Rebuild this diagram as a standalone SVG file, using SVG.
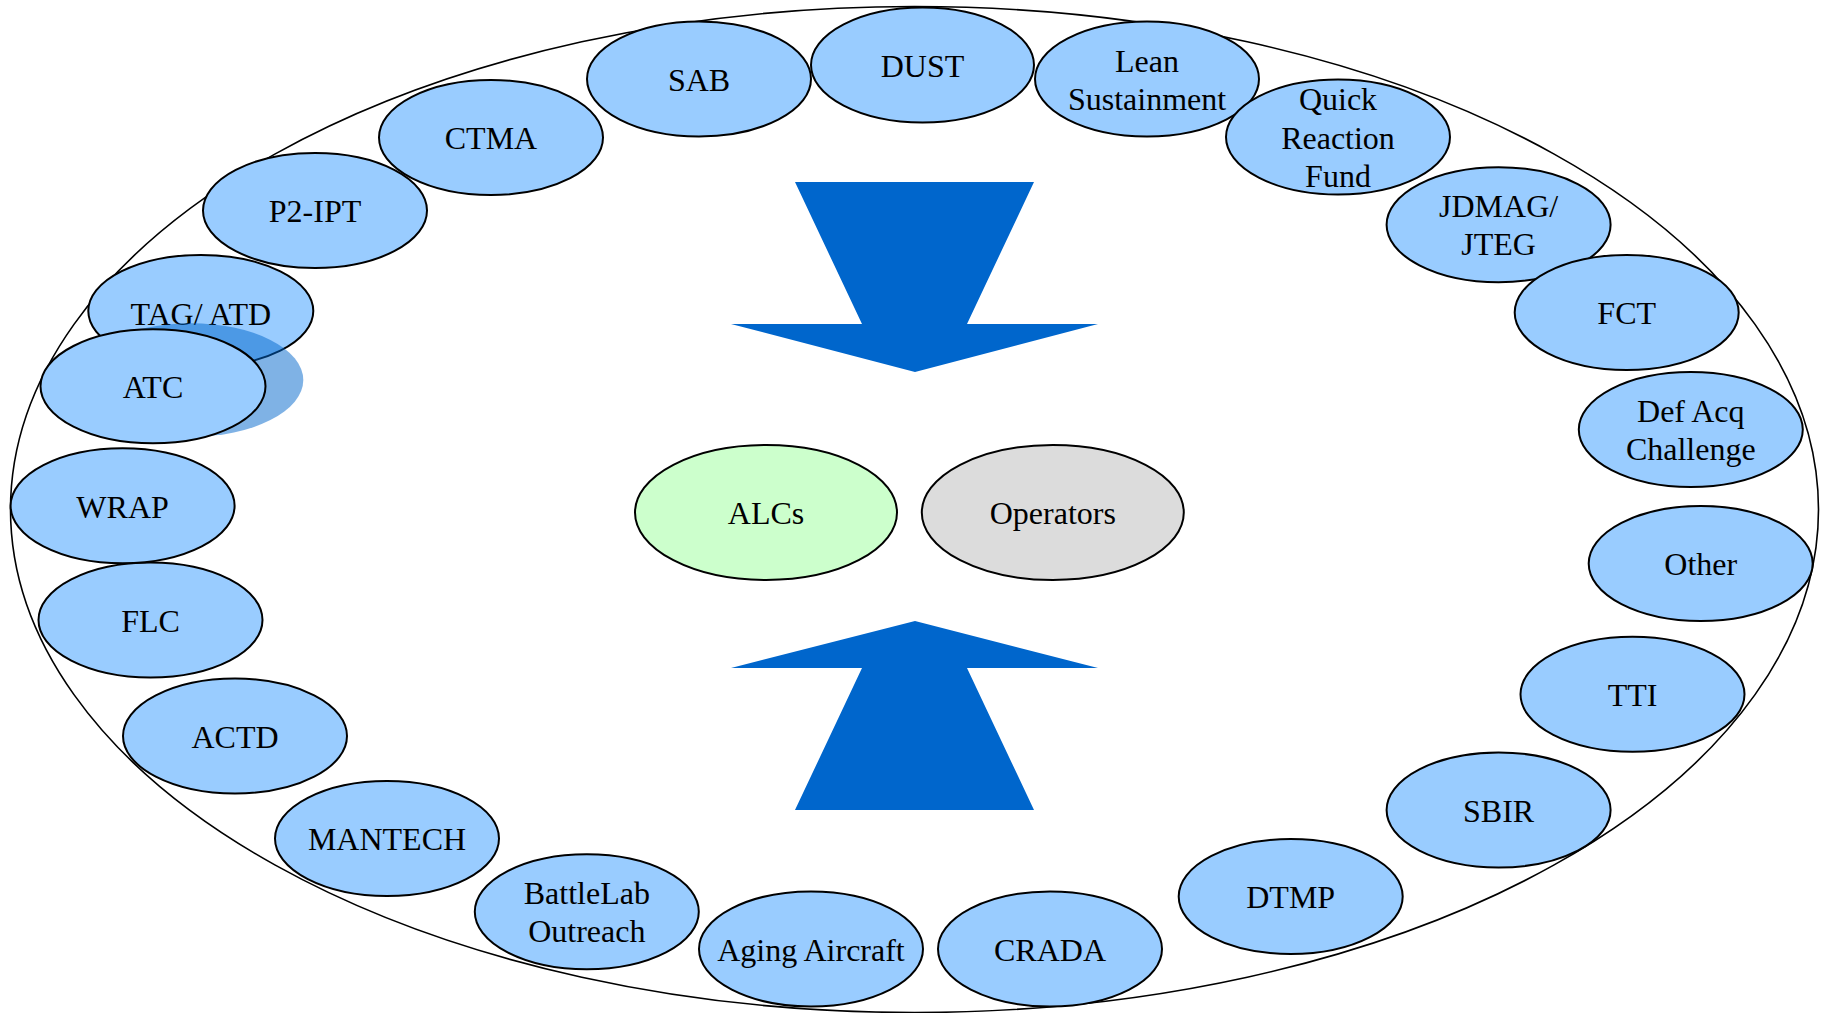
<svg xmlns="http://www.w3.org/2000/svg" width="1826" height="1013" viewBox="0 0 1826 1013">
<style>
.n{fill:#99ccff;stroke:#000;stroke-width:2}
.c1{fill:#ccffcc;stroke:#000;stroke-width:2}
.c2{fill:#dcdcdc;stroke:#000;stroke-width:2}
.t{font-family:"Liberation Serif","Times New Roman",serif;font-size:32px;fill:#000;text-anchor:middle}
.arr{fill:#0066cc}
</style>
<rect width="1826" height="1013" fill="#fff"/>
<ellipse id="ring" cx="914.5" cy="509.5" rx="904" ry="503" fill="none" stroke="#000" stroke-width="1.6"/>
<g id="connectors">
<polygon class="arr" points="795,182 1034,182 967,324 1098,324 915,372 731,324 862,324"/>
<polygon class="arr" points="915,621 1098,668 967,668 1034,810 795,810 862,668 731,668"/>
</g>
<g id="SAB"><ellipse class="n" cx="699" cy="79" rx="112" ry="57.5"/><text class="t" x="699" y="90.8">SAB</text></g>
<g id="CTMA"><ellipse class="n" cx="491" cy="137.5" rx="112" ry="57.5"/><text class="t" x="491" y="149.3">CTMA</text></g>
<g id="P2-IPT"><ellipse class="n" cx="315" cy="210.5" rx="112" ry="57.5"/><text class="t" x="315" y="222.3">P2-IPT</text></g>
<g id="DUST"><ellipse class="n" cx="922.5" cy="65" rx="111.5" ry="57.5"/><text class="t" x="922.5" y="76.8">DUST</text></g>
<g id="Lean"><ellipse class="n" cx="1147" cy="79" rx="112" ry="57.5"/><text class="t" x="1147" y="71.8">Lean</text><text class="t" x="1147" y="109.8">Sustainment</text></g>
<g id="QRF"><ellipse class="n" cx="1338" cy="137" rx="112" ry="57.5"/><text class="t" x="1338" y="110.3">Quick</text><text class="t" x="1338" y="148.6">Reaction</text><text class="t" x="1338" y="186.9">Fund</text></g>
<g id="JDMAG"><ellipse class="n" cx="1498.6" cy="224.7" rx="112" ry="57.5"/><text class="t" x="1498.6" y="217">JDMAG/</text><text class="t" x="1498.6" y="255.3">JTEG</text></g>
<g id="FCT"><ellipse class="n" cx="1626.7" cy="312.5" rx="112" ry="57.5"/><text class="t" x="1626.7" y="324.3">FCT</text></g>
<g id="DefAcq"><ellipse class="n" cx="1690.8" cy="429.5" rx="112" ry="57.5"/><text class="t" x="1690.8" y="422">Def Acq</text><text class="t" x="1690.8" y="460.3">Challenge</text></g>
<g id="Other"><ellipse class="n" cx="1700.7" cy="563.5" rx="112" ry="57.5"/><text class="t" x="1700.7" y="575.3">Other</text></g>
<g id="TTI"><ellipse class="n" cx="1632.5" cy="694.3" rx="112" ry="57.5"/><text class="t" x="1632.5" y="706.1">TTI</text></g>
<g id="SBIR"><ellipse class="n" cx="1498.6" cy="810" rx="112" ry="57.5"/><text class="t" x="1498.6" y="821.8">SBIR</text></g>
<g id="DTMP"><ellipse class="n" cx="1290.7" cy="896.5" rx="112" ry="57.5"/><text class="t" x="1290.7" y="908.3">DTMP</text></g>
<g id="CRADA"><ellipse class="n" cx="1050" cy="949" rx="112" ry="57.5"/><text class="t" x="1050" y="960.8">CRADA</text></g>
<g id="Aging"><ellipse class="n" cx="811" cy="949" rx="112" ry="57.5"/><text class="t" x="811" y="960.8">Aging Aircraft</text></g>
<g id="BattleLab"><ellipse class="n" cx="586.8" cy="911.8" rx="112" ry="57.5"/><text class="t" x="586.8" y="904.1">BattleLab</text><text class="t" x="586.8" y="942.1">Outreach</text></g>
<g id="MANTECH"><ellipse class="n" cx="387" cy="838.5" rx="112" ry="57.5"/><text class="t" x="387" y="850.3">MANTECH</text></g>
<g id="ACTD"><ellipse class="n" cx="235" cy="736" rx="112" ry="57.5"/><text class="t" x="235" y="747.8">ACTD</text></g>
<g id="FLC"><ellipse class="n" cx="150.5" cy="620" rx="112" ry="57.5"/><text class="t" x="150.5" y="631.8">FLC</text></g>
<g id="WRAP"><ellipse class="n" cx="122.6" cy="505.7" rx="112" ry="57.5"/><text class="t" x="122.6" y="517.5">WRAP</text></g>
<g id="TAG"><ellipse class="n" cx="200.8" cy="311" rx="112.5" ry="56"/><text class="t" x="200.8" y="324.8">TAG/ ATD</text></g>
<g id="ATC"><ellipse cx="190.8" cy="380" rx="112.5" ry="56.7" fill="#0066cc" fill-opacity="0.5"/><ellipse class="n" cx="153" cy="386.3" rx="112.5" ry="57"/><text class="t" x="153" y="398">ATC</text></g>
<g id="ALCs"><ellipse class="c1" cx="766" cy="512.5" rx="131" ry="67.5"/><text class="t" x="766" y="524.3">ALCs</text></g>
<g id="Operators"><ellipse class="c2" cx="1052.8" cy="512.5" rx="131" ry="67.5"/><text class="t" x="1052.8" y="524.3">Operators</text></g>
</svg>
